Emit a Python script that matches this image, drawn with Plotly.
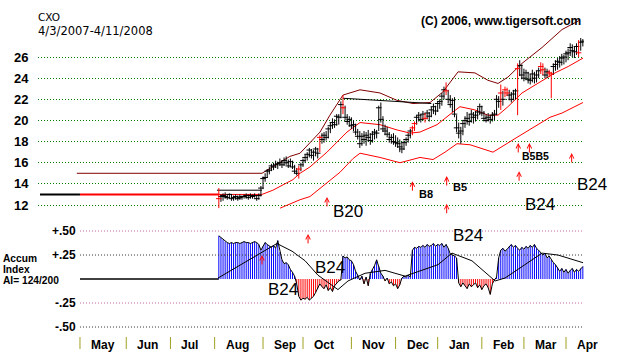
import plotly.graph_objects as go

W, H = 624, 352
ML, MR = 38, 40

symbol = "CXO"
date_range = "4/3/2007-4/11/2008"
copyright_txt = "(C) 2006, www.tigersoft.com"

# x axis = trading-day index, 0 = 4/3/2007
month_names = ["May", "Jun", "Jul", "Aug", "Sep", "Oct", "Nov", "Dec", "Jan", "Feb", "Mar", "Apr"]
month_start = [19, 41, 62, 83, 106, 125, 148, 169, 189, 210, 230, 250]
first_bar = 85

high = [13.6, 13.0, 13.1, 13.2, 13.0, 13.1, 13.0, 12.9, 13.0, 12.9, 13.0, 12.9, 13.0, 13.1, 13.0, 13.1, 13.0, 13.1, 12.9, 13.1,
        13.8, 14.7, 15.0, 15.4, 15.6, 15.9, 16.0, 16.2, 16.1, 16.4, 16.2, 16.5, 16.6, 16.3, 16.4, 16.2, 15.8, 15.5, 15.7, 16.0,
        16.4, 16.8, 17.0, 17.4, 17.3, 17.2, 17.5, 17.4, 18.6, 18.8, 18.9, 19.0, 19.4, 19.8, 20.2, 20.1, 20.6, 20.6, 21.8, 22.4,
        21.4, 20.6, 20.4, 20.3, 20.0, 19.7, 19.2, 19.0, 18.8, 19.0, 18.9, 19.1, 18.8, 19.0, 19.2, 19.1, 21.4, 21.7, 20.4, 19.6,
        19.4, 18.9, 18.7, 18.8, 18.6, 18.4, 18.2, 18.0, 18.1, 18.4, 18.8, 19.2, 19.5, 19.9, 20.5, 20.8, 20.6, 20.9, 20.7, 21.0,
        20.8, 21.3, 21.6, 21.4, 21.8, 22.0, 22.6, 23.2, 23.6, 22.9, 22.4, 22.1, 22.2, 20.5, 19.8, 19.4, 20.0, 20.4, 20.8, 20.6,
        21.0, 20.8, 20.9, 21.2, 21.6, 21.4, 20.9, 20.6, 20.7, 20.5, 20.8, 21.0, 22.4, 22.3, 23.4, 22.8, 23.2, 23.1, 22.9, 22.7,
        22.9, 23.0, 25.4, 25.7, 25.3, 24.9, 24.8, 24.6, 24.4, 24.8, 24.6, 24.7, 25.0, 25.5, 25.4, 25.0, 24.9, 24.8, 24.6, 25.4,
        25.7, 25.9, 26.1, 26.3, 26.2, 26.6, 26.8, 27.3, 27.2, 27.0, 27.3, 27.6, 27.8, 27.7]
low = [11.7, 12.3, 12.4, 12.6, 12.5, 12.6, 12.4, 12.4, 12.5, 12.4, 12.5, 12.5, 12.6, 12.6, 12.5, 12.6, 12.6, 12.7, 12.4, 12.5,
       12.8, 13.5, 14.2, 14.6, 14.9, 15.2, 15.3, 15.5, 15.4, 15.7, 15.5, 15.7, 15.8, 15.5, 15.6, 15.4, 15.0, 14.8, 14.5, 15.2,
       15.6, 16.0, 16.2, 16.5, 16.4, 16.2, 16.6, 16.4, 17.0, 17.8, 17.9, 18.1, 18.3, 18.8, 19.2, 19.3, 19.5, 19.6, 20.2, 20.6,
       20.0, 19.6, 19.4, 19.2, 19.0, 18.6, 18.2, 17.4, 17.6, 17.8, 17.6, 18.0, 17.7, 17.9, 18.2, 18.3, 19.0, 19.8, 18.9, 18.6,
       18.4, 17.9, 17.8, 17.7, 17.5, 17.4, 17.0, 16.9, 17.2, 17.6, 17.9, 18.3, 18.6, 19.0, 19.6, 19.9, 19.8, 20.0, 19.8, 20.1,
       19.9, 20.3, 20.6, 20.5, 20.8, 21.1, 21.4, 22.0, 22.4, 21.6, 21.2, 20.8, 20.3, 18.9, 18.3, 17.8, 18.6, 19.3, 19.6, 19.5,
       19.8, 19.7, 19.9, 20.1, 20.5, 20.4, 19.9, 19.8, 19.9, 19.7, 19.9, 20.0, 20.5, 21.2, 21.0, 21.4, 22.2, 22.3, 21.9, 21.7,
       21.9, 22.0, 20.5, 24.2, 23.9, 23.7, 23.8, 23.5, 23.4, 23.6, 23.5, 23.6, 24.0, 24.4, 24.3, 24.0, 24.0, 24.1, 22.1, 24.3,
       24.7, 24.8, 25.0, 25.2, 25.3, 25.5, 25.7, 26.1, 26.0, 25.9, 26.2, 26.0, 26.6, 27.0]
close = [12.6, 12.8, 12.9, 12.8, 12.7, 13.0, 12.6, 12.7, 12.8, 12.6, 12.7, 12.8, 12.8, 12.9, 12.7, 12.9, 12.8, 12.9, 12.6, 12.9,
         13.6, 14.5, 14.6, 15.2, 15.3, 15.7, 15.6, 15.8, 15.9, 16.0, 15.8, 16.2, 16.0, 15.7, 16.1, 15.6, 15.2, 15.0, 15.4, 15.8,
         16.2, 16.5, 16.8, 17.2, 16.7, 17.0, 17.3, 16.9, 18.4, 18.2, 18.6, 18.4, 19.2, 19.5, 19.8, 19.6, 20.4, 20.3, 21.5, 21.2,
         20.3, 19.9, 20.1, 19.5, 19.6, 18.9, 18.5, 17.8, 18.5, 18.2, 18.6, 18.4, 18.1, 18.7, 18.9, 18.8, 21.2, 20.1, 19.2, 19.0,
         18.7, 18.2, 18.4, 18.0, 17.9, 17.8, 17.5, 17.3, 17.9, 18.2, 18.6, 19.0, 19.3, 19.7, 20.3, 20.5, 20.1, 20.6, 20.2, 20.7,
         20.4, 21.0, 21.3, 20.9, 21.6, 21.8, 22.3, 22.9, 22.8, 22.0, 21.5, 21.9, 20.6, 19.3, 18.8, 19.0, 19.7, 20.0, 20.2, 19.9,
         20.6, 20.3, 20.5, 20.8, 21.3, 20.7, 20.2, 20.0, 20.3, 20.1, 20.5, 20.6, 22.0, 21.8, 22.6, 22.0, 22.9, 22.6, 22.4, 22.0,
         22.5, 22.8, 24.9, 25.2, 24.3, 24.0, 24.5, 23.9, 23.8, 24.4, 24.0, 24.3, 24.7, 25.1, 24.8, 24.3, 24.6, 24.5, 24.4, 25.1,
         25.3, 25.6, 25.5, 25.9, 26.0, 26.3, 26.4, 26.9, 26.6, 26.5, 27.0, 26.4, 27.4, 27.5]
red_bars = [85, 123, 133, 144, 177, 178, 183, 193, 219, 221, 222, 227, 238, 239, 242, 243, 256]

# pre-listing level and band lines (index, price)
pre_level = 13.0
upper_x = [17.5, 105.5, 118.8, 123.6, 133.1, 137.8, 144, 152.1, 161.6, 169.7, 177.3, 185.4, 191.5, 194.8, 198.7, 206.7,
           212.9, 217.7, 222.4, 229.1, 238.6, 248.1, 256.7]
upper_y = [15.0, 15.0, 16.6, 16.9, 18.9, 20.5, 22.4, 22.9, 22.6, 21.9, 21.6, 21.7, 22.7, 23.6, 24.6, 24.5,
           23.8, 23.5, 24.1, 25.4, 26.9, 28.6, 29.5]
mid_x = [85, 105.5, 110.7, 120.2, 123.6, 128.3, 136.4, 144, 145.9, 152.1, 161.6, 169.7, 175.9, 180.6, 188.7, 196.3,
         199.6, 206.7, 212.9, 217.7, 222.4, 229.1, 238.6, 244.8, 251.0, 258.1]
mid_y = [13.0, 13.0, 13.4, 14.4, 15.0, 15.6, 17.0, 18.6, 18.9, 19.8, 19.6, 19.1, 18.8, 18.9, 19.6, 20.8,
         21.3, 21.0, 20.5, 20.5, 21.3, 22.6, 23.8, 24.5, 25.1, 25.9]
lower_x = [114.1, 123.6, 128.3, 136.4, 142.6, 148.8, 152.1, 161.6, 171.1, 180.6, 186.8, 192.5, 198.2, 204.4, 215.3,
           226.7, 238.6, 242.4, 248.1, 258.1]
lower_y = [11.7, 12.5, 12.8, 14.1, 15.1, 16.4, 16.9, 16.5, 16.0, 16.5, 16.3, 17.0, 17.8, 17.7, 17.0,
           18.4, 19.8, 20.3, 20.7, 21.7]
box_x = [84.1, 105.5]
box_y = [13.4, 13.4]
pivot_x = [144, 186]
pivot_y = [22.1, 21.6]

price_ticks = [12, 14, 16, 18, 20, 22, 24, 26]

accum = [0.45, 0.43, 0.41, 0.39, 0.38, 0.37, 0.38, 0.37, 0.38, 0.38, 0.37, 0.38, 0.39, 0.38, 0.38, 0.37, 0.38, 0.39, 0.38, 0.36,
         0.30, 0.34, 0.38, 0.36, 0.34, 0.33, 0.35, 0.32, 0.40, 0.28, 0.20, 0.16, 0.17, 0.15, 0.10, 0.07, 0.03, -0.05, -0.18, -0.22,
         -0.20, -0.21, -0.19, -0.22, -0.20, -0.18, -0.14, -0.10, -0.05, -0.08, -0.10, -0.06, -0.12, -0.09, -0.13, -0.07, -0.04, -0.02,
         -0.01, 0.24, 0.22, 0.23, 0.20, 0.19, 0.15,
         0.08, 0.04, -0.01, 0.03, -0.05, 0.02, -0.07, 0.06, 0.10, 0.14, 0.20, 0.13, 0.06, 0.03, -0.02, 0.01, -0.05, -0.03, -0.07,
         -0.05, -0.10, -0.06, 0.01, 0.03, 0.02,
         0.04, 0.02, 0.30, 0.33, 0.32, 0.34, 0.33,
         0.35, 0.33, 0.36, 0.34, 0.35, 0.37, 0.34, 0.36, 0.35, 0.37, 0.33, 0.36, 0.32,
         0.26, 0.25, 0.24, 0.22, -0.04,
         -0.08, -0.04, -0.07, -0.10, -0.05, -0.08, -0.06,
         -0.04, -0.09, -0.06, -0.11, -0.07, -0.05, -0.09, -0.16, -0.05, -0.01, 0.02,
         0.22, 0.30, 0.32, 0.29, 0.31, 0.34, 0.36, 0.33, 0.35, 0.32, 0.30, 0.33, 0.31, 0.34, 0.32, 0.35, 0.33, 0.36, 0.32, 0.30,
         0.27, 0.25, 0.27, 0.22, 0.24, 0.20, 0.17, 0.15, 0.12, 0.08, 0.11, 0.07, 0.10, 0.06, 0.09, 0.11, 0.07, 0.10, 0.08, 0.11, 0.13]
ai_ma_x = [84.6, 112.6, 119.8, 126, 132.1, 141.6, 146.4, 154.5, 164, 173.5, 189.2, 195.8, 205.3, 212.9, 216.3, 221,
           236.7, 238.6, 246.2, 258.1]
ai_ma_y = [0.01, 0.37, 0.29, 0.19, 0.04, -0.11, -0.02, 0.06, 0.09, 0.03, 0.15, 0.27, 0.19, 0.04, -0.02, 0.01,
           0.24, 0.27, 0.25, 0.17]
ai_ticks = [0.5, 0.25, -0.25, -0.5]
ai_tick_text = ["+.50", "+.25", "-.25", "-.50"]
ai_grid_colors = ["#c0609a", "#303030", "#c0609a", "#303030"]
ai_label = ["Accum", "Index", "AI= 124/200"]

# signals: arrows (index, tip value) and labels (text, index, value, size, bold)
price_arrows = [(136.4, 12.76), (177.0, 14.25), (193.3, 14.74), (193.3, 12.12), (227.3, 17.87), (232.6, 17.87),
                (227.7, 15.20), (252.7, 16.92)]
ai_arrows = [(127.4, 0.47), (105.5, 0.25)]
price_labels = [("B20", 146.4, 11.34, 17, False), ("B24", 237.6, 12.09, 17, False),
                ("B8", 183.5, 13.04, 11, True), ("B5", 199.6, 13.66, 11, True), ("B5B5", 235.5, 16.59, 10.5, True)]
edge_label = ("B24", 592, 185)   # right-edge label, pixel position
ai_labels = [("B24", 203.4, 0.458), ("B24", 137.8, 0.125), ("B24", 115.5, -0.104)]

# ---------------------------------------------------------------
n = len(close)
xs = list(range(first_bar, first_bar + n))
fig = go.Figure()

def bars(idx, color):
    bx, by = [], []
    for k in idx:
        i = xs[k]
        bx += [i, i, None]
        by += [low[k], high[k], None]
    fig.add_trace(go.Scatter(x=bx, y=by, mode="lines", line=dict(color=color, width=1), hoverinfo="skip"))
    fig.add_trace(go.Scatter(x=[xs[k] for k in idx], y=[close[k] for k in idx], mode="markers",
                             marker=dict(symbol="line-ew", size=4, line=dict(color=color, width=1)), hoverinfo="skip"))

# pre-listing lines
fig.add_trace(go.Scatter(x=[0, month_start[0]], y=[pre_level, pre_level], mode="lines", line=dict(color="black", width=2)))
fig.add_trace(go.Scatter(x=[month_start[0], first_bar], y=[pre_level, pre_level], mode="lines", line=dict(color="#ff0000", width=2)))
fig.add_trace(go.Scatter(x=upper_x, y=upper_y, mode="lines", line=dict(color="#800000", width=1)))
fig.add_trace(go.Scatter(x=mid_x, y=mid_y, mode="lines", line=dict(color="#ff0000", width=1)))
fig.add_trace(go.Scatter(x=lower_x, y=lower_y, mode="lines", line=dict(color="#ff0000", width=1)))
fig.add_trace(go.Scatter(x=box_x, y=box_y, mode="lines", line=dict(color="black", width=1)))
fig.add_trace(go.Scatter(x=pivot_x, y=pivot_y, mode="lines", line=dict(color="black", width=1)))

black_idx = [k for k in range(n) if xs[k] not in red_bars]
red_idx = [k for k in range(n) if xs[k] in red_bars]
bars(black_idx, "black")
bars(red_idx, "#ff0000")

# accumulation index panel: striped histogram drawn as thin vertical strokes
fig.add_trace(go.Scatter(x=[month_start[0], first_bar], y=[0, 0], mode="lines", line=dict(color="black", width=1.5),
                         yaxis="y2"))
for sign, col in ((1, "#0000ff"), (-1, "#ff0000")):
    sx, sy = [], []
    for i, v in zip(xs, accum):
        if (v >= 0) == (sign > 0):
            sx += [i, i, None]
            sy += [0, v, None]
    fig.add_trace(go.Scatter(x=sx, y=sy, mode="lines", line=dict(color=col, width=1), yaxis="y2", hoverinfo="skip"))
fig.add_trace(go.Scatter(x=xs, y=accum, mode="lines", line=dict(color="black", width=1), yaxis="y2"))
fig.add_trace(go.Scatter(x=ai_ma_x, y=ai_ma_y, mode="lines", line=dict(color="black", width=1), yaxis="y2"))

plot_w = W - ML - MR
px_per = 2.104
x0 = (ML - 40.0) / px_per
x1 = x0 + plot_w / px_per

def py(p):
    return 1 - p / H

def pxp(p):
    return (p - ML) / plot_w

shapes = []
for v, c in zip(ai_ticks, ai_grid_colors):
    shapes.append(dict(type="line", xref="x", yref="y2", x0=month_start[0], x1=x1, y0=v, y1=v,
                       line=dict(color=c, width=1, dash="1px,2px")))
for m in month_start:
    shapes.append(dict(type="line", xref="x", yref="paper", x0=m, x1=m, y0=py(349), y1=py(337),
                       line=dict(color="#a0a020", width=1)))

ann = []
FONT = "Liberation Sans"
ann.append(dict(text=symbol, xref="paper", yref="paper", x=pxp(37), y=py(17), xanchor="left", yanchor="middle",
                showarrow=False, borderpad=0, font=dict(family="DejaVu Sans", size=10.5, color="black")))
ann.append(dict(text=date_range, xref="paper", yref="paper", x=pxp(37), y=py(30.5), xanchor="left", yanchor="middle",
                showarrow=False, borderpad=0, font=dict(family="DejaVu Sans", size=11.5, color="black")))
ann.append(dict(text="<b>" + copyright_txt + "</b>", xref="paper", yref="paper", x=pxp(583), y=py(21),
                xanchor="right", yanchor="middle", showarrow=False, font=dict(family=FONT, size=12, color="black")))
for name, m in zip(month_names, month_start):
    ann.append(dict(text="<b>" + name + "</b>", xref="x", yref="paper", x=m, xshift=9, y=py(345),
                    xanchor="left", yanchor="middle", showarrow=False, font=dict(family=FONT, size=12, color="black")))
for v, t in zip(ai_ticks, ai_tick_text):
    ann.append(dict(text="<b>" + t + "</b>", xref="paper", yref="y2", x=pxp(78), y=v, xanchor="right",
                    yanchor="middle", showarrow=False, font=dict(family=FONT, size=12, color="black")))
for k, t in enumerate(ai_label):
    ann.append(dict(text="<b>" + t + "</b>", xref="paper", yref="paper", x=pxp(2), y=py(258 + 11 * k),
                    xanchor="left", yanchor="middle", showarrow=False, borderpad=0,
                    font=dict(family=FONT, size=10.2, color="black")))
for (i, v) in price_arrows:
    ann.append(dict(text="", x=i, y=v, xref="x", yref="y", showarrow=True, ax=0, ay=11, arrowhead=5,
                    arrowsize=0.9, arrowwidth=1, arrowcolor="#ff0000"))
for (i, v) in ai_arrows:
    ann.append(dict(text="", x=i, y=v, xref="x", yref="y2", showarrow=True, ax=0, ay=11, arrowhead=5,
                    arrowsize=0.9, arrowwidth=1, arrowcolor="#ff0000"))
for (t, i, v, s, b) in price_labels:
    ann.append(dict(text=("<b>%s</b>" % t) if b else t, x=i, y=v, xref="x", yref="y", showarrow=False,
                    xanchor="center", yanchor="middle", font=dict(family=FONT, size=s, color="black")))
ann.append(dict(text=edge_label[0], xref="paper", yref="paper", x=pxp(edge_label[1]), y=py(edge_label[2]),
                showarrow=False, xanchor="center", yanchor="middle", font=dict(family=FONT, size=17, color="black")))
for (t, i, v) in ai_labels:
    ann.append(dict(text=t, x=i, y=v, xref="x", yref="y2", showarrow=False, xanchor="center", yanchor="middle",
                    font=dict(family=FONT, size=17, color="black")))

fig.update_layout(
    width=W, height=H, margin=dict(l=ML, r=MR, t=0, b=0), paper_bgcolor="white", plot_bgcolor="white",
    showlegend=False, shapes=shapes, annotations=ann,
    xaxis=dict(range=[x0, x1], domain=[0, 1], anchor="y2", showgrid=False, zeroline=False, showline=False,
               showticklabels=False, ticks=""),
    yaxis=dict(domain=[py(215), py(10)], range=[11.054, 30.45], tickvals=price_ticks,
               ticktext=["<b>%d</b>" % v for v in price_ticks], tickfont=dict(family=FONT, size=13, color="black"),
               showgrid=True, gridcolor="#008000", gridwidth=1, griddash="1px,2px", zeroline=False, showline=False,
               ticks="outside", ticklen=6, tickcolor="rgba(0,0,0,0)", automargin=False),
    yaxis2=dict(domain=[py(335), py(222)], range=[-0.583, 0.594], showgrid=False, zeroline=False, showline=False,
                showticklabels=False, ticks=""),
)

fig.write_html("out.html")
